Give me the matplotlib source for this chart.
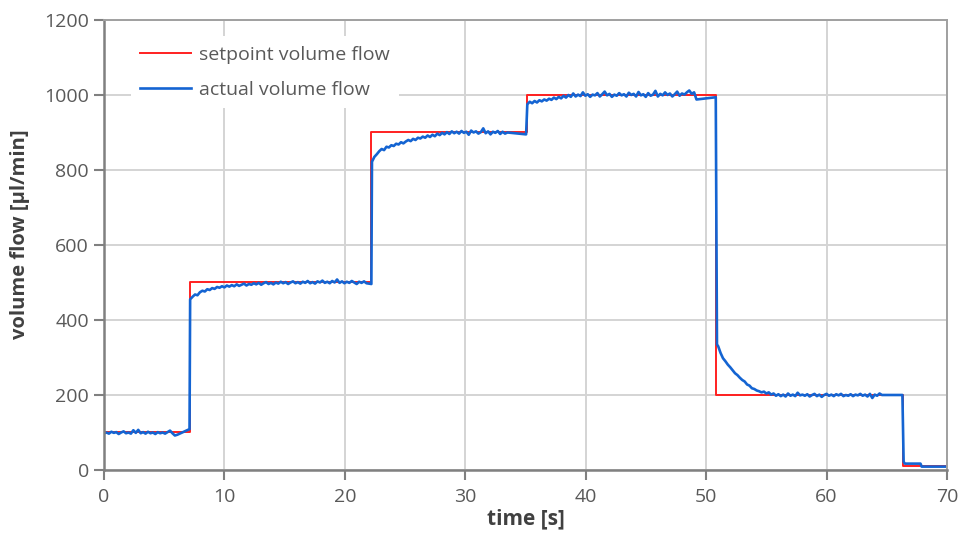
import numpy as np
import matplotlib
matplotlib.use('Agg')
import matplotlib.pyplot as plt

plt.rcParams['font.family'] = ['Open Sans', 'DejaVu Sans']

# setpoint (step function)
setpoint_t = [0, 7.15, 22.2, 35.1, 50.85, 66.35, 70]
setpoint_v = [100, 500, 900, 1000, 200, 10, 10]

# actual volume flow
seg_a = [98, 100, 97, 102, 99, 101, 96, 100, 103, 98, 100, 97, 106, 99, 107, 98, 101, 97,
         102, 98, 100, 96, 101, 98, 100, 97, 101, 105, 98, 92, 94, 97, 100, 103, 106, 109]
seg_b = [455, 462, 468, 466, 474, 478, 476, 482, 480, 485, 483, 488, 486, 490, 487, 492, 489,
         493, 490, 495, 491, 494, 497, 492, 496, 494, 498, 495, 499, 494, 498, 501, 496, 499,
         495, 500, 497, 502, 498, 501, 496, 500, 503, 498, 501, 497, 502, 499, 504, 498, 501,
         497, 503, 500, 505, 499, 502, 498, 504, 500, 508, 499, 503, 498, 502, 499, 504, 500,
         496, 502, 499, 503, 498, 497, 496]
seg_c = [822, 835, 842, 850, 856, 853, 862, 860, 866, 864, 870, 868, 874, 871, 876, 880, 877,
         883, 880, 886, 884, 889, 886, 892, 888, 894, 890, 897, 893, 899, 895, 901, 896, 903,
         898, 902, 897, 904, 899, 902, 894, 905, 900, 903, 897, 901, 911, 898, 903, 895, 902,
         899, 904, 896, 902, 897, 900]
seg_d = [975, 982, 978, 984, 980, 986, 983, 988, 985, 990, 987, 993, 989, 995, 991, 998, 993,
         1000, 995, 1004, 996, 1001, 997, 1007, 998, 1002, 995, 1001, 999, 1005, 996, 1002,
         1009, 999, 1003, 995, 1001, 998, 1005, 999, 1002, 996, 1006, 1000, 1003, 996, 1008,
         999, 1002, 995, 1005, 998, 1001, 1011, 996, 1003, 999, 1007, 1000, 1004, 996, 1002,
         1009, 998, 1004, 1001, 1007, 1012, 1003, 1007]
seg_e = [330, 312, 298, 290, 281, 274, 266, 258, 253, 246, 240, 236, 228, 225, 218, 216, 212,
         210, 207, 209, 204, 207, 201, 204, 198, 202, 197, 201, 196, 204, 198, 201, 197, 206,
         199, 201, 198, 202, 196, 200, 203, 197, 201, 195, 200, 203, 198, 201, 197, 202, 199,
         203, 197, 200, 198, 202, 197, 201, 199, 203, 198, 201, 196, 203, 192, 201, 198, 204, 200]

actual_t = np.concatenate([
    np.linspace(0, 7.1, len(seg_a)),
    np.linspace(7.15, 22.2, len(seg_b)),
    np.linspace(22.25, 33.5, len(seg_c)), [35.05],
    np.linspace(35.15, 49.0, len(seg_d)), [49.2, 50.8],
    [50.9], np.linspace(51.0, 64.6, len(seg_e)), [66.3],
    [66.4, 66.5, 67.8, 67.9, 70.0],
])
actual_v = np.concatenate([
    seg_a, seg_b, seg_c, [895], seg_d, [988, 994],
    [335], seg_e, [200], [22, 17, 17, 9, 9],
])

fig = plt.figure(figsize=(9.66, 5.46), dpi=100)
ax = fig.add_axes([0.1077, 0.1392, 0.8726, 0.8242])

ax.step(setpoint_t, setpoint_v, where='post', color='#ff2020', lw=1.4,
        label='setpoint volume flow')
ax.plot(actual_t, actual_v, color='#1464d2', lw=1.9, label='actual volume flow')

ax.set_xlim(0, 70)
ax.set_ylim(0, 1200)
ax.set_xticks(range(0, 71, 10))
ax.set_yticks(range(0, 1201, 200))
ax.grid(True, color='#d4d4d4', lw=1.4)
ax.set_axisbelow(True)

for s in ax.spines.values():
    s.set_color('#808080')
    s.set_linewidth(1.8)
ax.spines['top'].set_color('#a0a0a0')
ax.spines['right'].set_color('#a0a0a0')
ax.spines['top'].set_linewidth(1.4)
ax.spines['right'].set_linewidth(1.4)

ax.tick_params(axis='both', colors='#808080', width=1.5, length=7,
               labelcolor='#595959', labelsize=14)
ax.tick_params(axis='x', pad=6)
ax.tick_params(axis='y', pad=4)

ax.set_xlabel('time [s]', fontsize=15, fontweight='bold', color='#404040', labelpad=2)
ax.set_ylabel('volume flow [µl/min]', fontsize=14.5, fontweight='bold', color='#404040')
ax.yaxis.set_label_coords(-0.088, 0.525)

leg = ax.legend(loc='upper left', bbox_to_anchor=(0.02, 0.985), fontsize=14,
                frameon=True, facecolor='white', edgecolor='none', framealpha=1,
                handlelength=2.6, labelspacing=0.85, borderpad=0.5, handletextpad=0.4)
for t in leg.get_texts():
    t.set_color('#595959')

fig.savefig('out.png', dpi=100)
